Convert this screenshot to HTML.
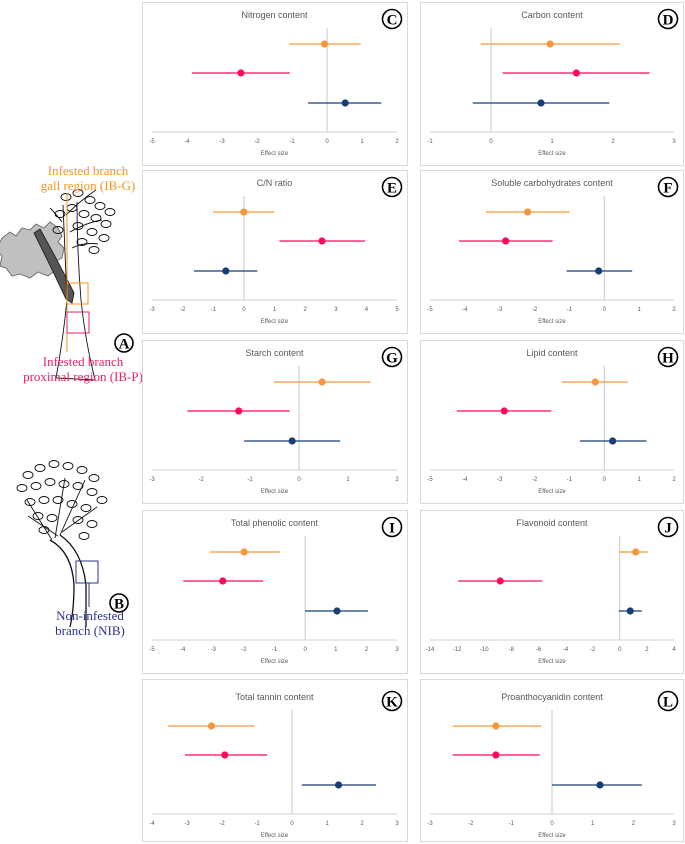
<!DOCTYPE html>
<html><head><meta charset="utf-8">
<style>
html,body{margin:0;padding:0;background:#fff;}
body{width:685px;height:844px;overflow:hidden;position:relative;font-family:"Liberation Sans",sans-serif;}
svg{position:absolute;left:0;top:0;}
.ttl{font-family:"Liberation Sans",sans-serif;font-size:9px;fill:#595959;}
.tick{font-family:"Liberation Sans",sans-serif;font-size:6px;fill:#595959;}
.lbl{font-family:"Liberation Serif",serif;font-size:13px;}
.let{font-family:"Liberation Serif",serif;font-size:15px;font-weight:bold;fill:#000;}
</style></head>
<body>
<svg id="fig" width="685" height="844" viewBox="0 0 685 844">
  <g id="illus">
    <g fill="none" stroke="#111" stroke-width="0.9">
      <path d="M2,238 l8,-6 l6,4 l6,-8 l8,2 l6,-6 l8,4 l6,-6 l8,6 l4,8 l-4,6 l6,6 l-2,10 l-8,4 l2,8 l-8,6 l-10,-4 l-8,6 l-10,-4 l-8,2 l-6,-8 l-6,-2 l2,-10 l-6,-6 z" fill="#c0c0c0" stroke="#666"/>
      <path d="M34,233 q18,36 32,66 l6,4 l2,-10 q-14,-28 -34,-64 z" fill="#555" stroke="#222"/>
      <path d="M63,205 q2,50 4,95 q-4,40 -11,78 l39,2 q-10,-40 -14,-80 q-4,-50 -4,-98"/>
      <path d="M66,215 q15,-15 30,-25 M70,232 q18,-10 32,-12 M72,248 q12,-6 26,-4 M62,222 q-6,-8 -12,-14"/>
      <g transform="translate(0,0)">
      <ellipse cx="66" cy="197" rx="5" ry="3.5"/><ellipse cx="78" cy="193" rx="5" ry="3.5"/><ellipse cx="90" cy="200" rx="5" ry="3.5"/><ellipse cx="100" cy="206" rx="5" ry="3.5"/><ellipse cx="72" cy="208" rx="5" ry="3.5"/><ellipse cx="84" cy="214" rx="5" ry="3.5"/><ellipse cx="96" cy="218" rx="5" ry="3.5"/><ellipse cx="106" cy="224" rx="5" ry="3.5"/><ellipse cx="78" cy="226" rx="5" ry="3.5"/><ellipse cx="92" cy="232" rx="5" ry="3.5"/><ellipse cx="104" cy="238" rx="5" ry="3.5"/><ellipse cx="82" cy="242" rx="5" ry="3.5"/><ellipse cx="94" cy="250" rx="5" ry="3.5"/><ellipse cx="60" cy="214" rx="5" ry="3.5"/><ellipse cx="58" cy="230" rx="5" ry="3.5"/><ellipse cx="110" cy="212" rx="5" ry="3.5"/>
      </g>
    </g>
    <line x1="67" y1="193" x2="67" y2="352" stroke="#f7941d" stroke-width="1"/>
    <rect x="67" y="283" width="21" height="21" fill="none" stroke="#f7941d" stroke-width="1"/>
    <rect x="67" y="312" width="22" height="21" fill="none" stroke="#e8226a" stroke-width="1"/>
    <text class="lbl" x="88" y="175" text-anchor="middle" fill="#f7941d"><tspan x="88">Infested branch</tspan><tspan x="88" dy="15">gall region (IB-G)</tspan></text>
    <text class="lbl" x="83" y="366" text-anchor="middle" fill="#e8226a"><tspan x="83">Infested branch</tspan><tspan x="83" dy="15">proximal region (IB-P)</tspan></text>
    <g fill="none" stroke="#111" stroke-width="0.9">
      <path d="M50,540 q22,12 24,45 q0,25 -4,42 M60,535 q22,15 26,50 l0,42" stroke-width="1.3"/>
      <path d="M55,538 l10,-60 M60,535 l25,-55 M52,540 l-25,-40 M62,532 l35,-25 M58,536 l-30,-20"/>
      <ellipse cx="28" cy="475" rx="5" ry="3.5"/><ellipse cx="40" cy="468" rx="5" ry="3.5"/><ellipse cx="54" cy="464" rx="5" ry="3.5"/><ellipse cx="68" cy="466" rx="5" ry="3.5"/><ellipse cx="82" cy="470" rx="5" ry="3.5"/><ellipse cx="94" cy="478" rx="5" ry="3.5"/><ellipse cx="22" cy="488" rx="5" ry="3.5"/><ellipse cx="36" cy="486" rx="5" ry="3.5"/><ellipse cx="50" cy="482" rx="5" ry="3.5"/><ellipse cx="64" cy="484" rx="5" ry="3.5"/><ellipse cx="78" cy="486" rx="5" ry="3.5"/><ellipse cx="92" cy="492" rx="5" ry="3.5"/><ellipse cx="102" cy="500" rx="5" ry="3.5"/><ellipse cx="30" cy="502" rx="5" ry="3.5"/><ellipse cx="44" cy="500" rx="5" ry="3.5"/><ellipse cx="58" cy="500" rx="5" ry="3.5"/><ellipse cx="72" cy="504" rx="5" ry="3.5"/><ellipse cx="86" cy="508" rx="5" ry="3.5"/><ellipse cx="38" cy="516" rx="5" ry="3.5"/><ellipse cx="52" cy="518" rx="5" ry="3.5"/><ellipse cx="78" cy="520" rx="5" ry="3.5"/><ellipse cx="92" cy="524" rx="5" ry="3.5"/><ellipse cx="44" cy="530" rx="5" ry="3.5"/><ellipse cx="84" cy="536" rx="5" ry="3.5"/>
    </g>
    <rect x="76" y="561" width="22" height="22" fill="none" stroke="#2e3192" stroke-width="1"/>
    <line x1="89" y1="583" x2="89" y2="607" stroke="#2e3192"/>
    <text class="lbl" x="90" y="620" text-anchor="middle" fill="#2e3192"><tspan x="90">Non-infested</tspan><tspan x="90" dy="15">branch (NIB)</tspan></text>
    <g><circle cx="124" cy="343" r="9" fill="#fff" stroke="#000" stroke-width="1.6"/><text class="let" x="124" y="348.5" text-anchor="middle">A</text></g>
    <g><circle cx="119" cy="603" r="9" fill="#fff" stroke="#000" stroke-width="1.6"/><text class="let" x="119" y="608.5" text-anchor="middle">B</text></g>
  </g>
</svg>
<script>
const panelTitles = ["Nitrogen content","Carbon content","C/N ratio","Soluble carbohydrates content","Starch content","Lipid content","Total phenolic content","Flavonoid content","Total tannin content","Proanthocyanidin content"];
const panelLetters = ["C","D","E","F","G","H","I","J","K","L"];
const axisMin = [-5,-1,-3,-5,-3,-5,-5,-14,-4,-3];
const axisMax = [2,3,5,2,2,2,3,4,3,3];
const axisStep = [1,1,1,1,1,1,1,2,1,1];
const seriesNames = ["IB-G","IB-P","NIB"];
const meanIBG = [-0.07,0.97,0.0,-2.2,0.47,-0.26,-1.99,1.18,-2.3,-1.38];
const lowIBG  = [-1.08,-0.17,-1.01,-3.4,-0.51,-1.22,-3.11,0.0,-3.55,-2.44];
const highIBG = [0.96,2.11,0.99,-0.99,1.46,0.67,-0.83,2.05,-1.07,-0.27];
const meanIBP = [-2.46,1.4,2.55,-2.83,-1.23,-2.87,-2.69,-8.82,-1.92,-1.38];
const lowIBP  = [-3.86,0.19,1.16,-4.17,-2.28,-4.23,-3.98,-11.92,-3.06,-2.44];
const highIBP = [-1.06,2.6,3.96,-1.48,-0.19,-1.52,-1.37,-5.74,-0.71,-0.3];
const meanNIB = [0.52,0.82,-0.59,-0.16,-0.14,0.24,1.04,0.77,1.33,1.18];
const lowNIB  = [-0.54,-0.3,-1.63,-1.08,-1.12,-0.7,0.0,-0.08,0.28,0.0];
const highNIB = [1.55,1.94,0.44,0.8,0.84,1.21,2.05,1.62,2.4,2.21];

const colors=["#f7963c","#ff0a5a","#173f73"];
const NS="http://www.w3.org/2000/svg";
const svg=document.getElementById('fig');
function mk(tag,attrs,parent){const e=document.createElementNS(NS,tag);for(const k in attrs)e.setAttribute(k,attrs[k]);parent.appendChild(e);return e;}
const rowTops=[2,170,340,510,679];
const rowH=[163,163,163,163,162];
for(let i=0;i<10;i++){
  const col=i%2,row=Math.floor(i/2);
  const px=col?420:142, pw=col?263:265, py=rowTops[row], ph=rowH[row];
  const off=row===4?5:0;
  const g=mk('g',{},svg);
  
  
  const box=mk('rect',{x:px+0.5,y:py+0.5,width:pw,height:ph,fill:'#fff',stroke:'#d9d9d9','stroke-width':1},g);
  
  
  const x0=col?430:152, x1=col?674:397;
  const sx=v=>x0+(v-axisMin[i])/(axisMax[i]-axisMin[i])*(x1-x0);
  const yAxis=py+130+off;
  const ys=[py+42+off,py+71+off,py+101+off];
  const t=mk('text',{x:(x0+x1)/2,y:py+16+off,'text-anchor':'middle',class:'ttl'},g);t.textContent=panelTitles[i];
  
  
  const zl=mk('line',{x1:sx(0),x2:sx(0),y1:py+26+off,y2:yAxis,stroke:'#c8c8c8','stroke-width':1},g);
  
  
  const ax=mk('line',{x1:x0,x2:x1,y1:yAxis,y2:yAxis,stroke:'#d0d0d0','stroke-width':1},g);
  
  
  for(let v=axisMin[i];v<=axisMax[i]+1e-9;v+=axisStep[i]){
    const tk=mk('text',{x:sx(v),y:yAxis+11,'text-anchor':'middle',class:'tick'},g);tk.textContent=v;
    
    
  }
  const at=mk('text',{x:(x0+x1)/2,y:yAxis+23,'text-anchor':'middle',class:'tick'},g);at.textContent='Effect size';
  
  
  const means=[meanIBG[i],meanIBP[i],meanNIB[i]],lows=[lowIBG[i],lowIBP[i],lowNIB[i]],highs=[highIBG[i],highIBP[i],highNIB[i]];
  for(let s=0;s<3;s++){
    const ci=mk('line',{x1:sx(lows[s]),x2:sx(highs[s]),y1:ys[s],y2:ys[s],stroke:colors[s],'stroke-width':1.3},g);
    
    
    const dot=mk('circle',{cx:sx(means[s]),cy:ys[s],r:3.6,fill:colors[s]},g);
    
    
  }
  const cx=col?668:392, cy=py+17+off;
  mk('circle',{cx:cx,cy:cy,r:9.5,fill:'#fff',stroke:'#000','stroke-width':1.6},g);
  const L=mk('text',{x:cx,y:cy+5.5,'text-anchor':'middle',class:'let'},g);L.textContent=panelLetters[i];
  
  
}
</script>
</body></html>
